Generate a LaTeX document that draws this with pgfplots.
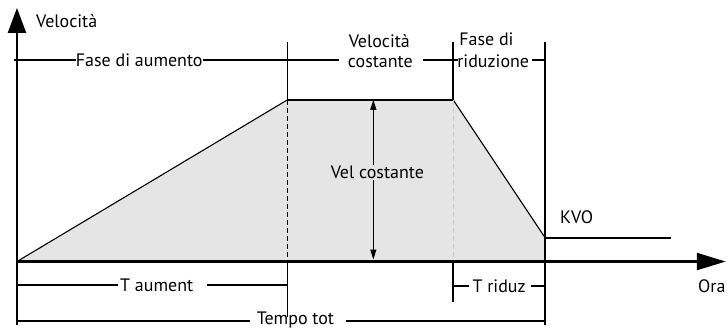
\documentclass[border=0pt]{standalone}
\usepackage{pgfplots}
\pgfplotsset{compat=1.18}
\usepackage{fontspec}
\setmainfont{PT Sans}
\usetikzlibrary{arrows.meta}

\begin{document}
\fontsize{18}{20}\selectfont
\begin{tikzpicture}
\begin{axis}[x=1pt, y=1pt, xmin=0, xmax=727, ymin=0, ymax=326,
  hide axis, clip=false, scale only axis]
\path (axis cs:0,0) rectangle (axis cs:727,326);

% profilo di velocita
\addplot[fill=gray!20, draw=none] coordinates
  {(17,64) (288,226) (454,226) (546,88) (546,64) (17,64)};
\addplot[black, line width=1.1pt] coordinates
  {(17,64) (288,226) (454,226) (546,88)};
\addplot[black, line width=2pt] coordinates {(288,226) (454,226)};
\addplot[black, line width=2pt] coordinates {(546,88) (672,88)};

% tratteggi
\draw[black, line width=1.3pt, dash pattern=on 5pt off 3pt] (axis cs:288,226) -- (axis cs:288,64);
\draw[gray!40, line width=1.3pt, dash pattern=on 5pt off 3pt] (axis cs:454,226) -- (axis cs:454,64);

% assi
\draw[line width=2.6pt, -{Triangle[length=25pt,width=18pt]}] (axis cs:17,0) -- (axis cs:17,318);
\draw[line width=2.6pt, -{Triangle[length=29pt,width=17pt]}] (axis cs:17,64) -- (axis cs:727,64);
\node[anchor=west, inner sep=0] at (axis cs:36,305) {Velocità};
\node[anchor=east, inner sep=0] at (axis cs:727,39) {Ora};

% linee verticali
\draw[line width=1.5pt] (axis cs:288,284) -- (axis cs:288,226);
\draw[line width=1.5pt] (axis cs:288,64) -- (axis cs:288,8);
\draw[line width=2pt] (axis cs:454,284) -- (axis cs:454,226);
\draw[line width=2pt] (axis cs:454,64) -- (axis cs:454,23);
\draw[line width=2pt] (axis cs:546,284) -- (axis cs:546,0);

% fasi in alto
\draw[line width=2pt] (axis cs:14,266) -- (axis cs:76,266);
\draw[line width=2pt] (axis cs:203,266) -- (axis cs:340,266);
\draw[line width=2pt] (axis cs:424,266) -- (axis cs:459,266);
\draw[line width=2pt] (axis cs:533,266) -- (axis cs:546,266);
\node[inner sep=0] at (axis cs:139.5,266) {Fase di aumento};
\node[inner sep=0] at (axis cs:380,285) {Velocità};
\node[inner sep=0] at (axis cs:381,264) {costante};
\node[anchor=west, inner sep=0] at (axis cs:460,287) {Fase di};
\node[anchor=west, inner sep=0] at (axis cs:458,265) {riduzione};

% velocita costante
\draw[line width=1.2pt, {Triangle[length=10pt,width=6pt]}-{Triangle[length=10pt,width=6pt]}] (axis cs:374,226) -- (axis cs:374,66);
\node[fill=gray!20, inner sep=1pt] at (axis cs:378,153) {Vel costante};
\node[anchor=west, inner sep=0] at (axis cs:561,108) {KVO};

% tempi in basso
\draw[line width=2pt] (axis cs:17,40) -- (axis cs:118,40);
\draw[line width=2pt] (axis cs:207,40) -- (axis cs:288,40);
\node[inner sep=0] at (axis cs:157,40) {T aument};
\draw[line width=2pt] (axis cs:454,39) -- (axis cs:470,39);
\draw[line width=2pt] (axis cs:532,39) -- (axis cs:546,39);
\node[inner sep=0] at (axis cs:500,39) {T riduz};
\draw[line width=2pt] (axis cs:17,4) -- (axis cs:250,4);
\draw[line width=2pt] (axis cs:347,4) -- (axis cs:546,4);
\node[inner sep=0] at (axis cs:296,5) {Tempo tot};
\end{axis}
\end{tikzpicture}
\end{document}
